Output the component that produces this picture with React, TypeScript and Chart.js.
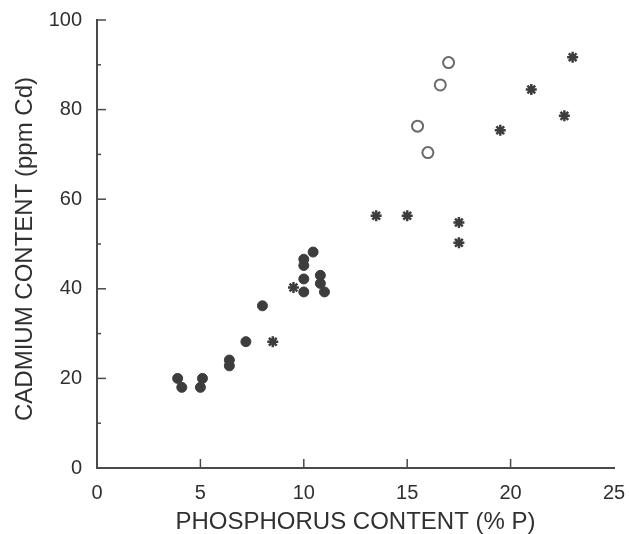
import React, { useEffect, useRef } from 'react';
import { Chart, registerables } from 'chart.js';

Chart.register(...registerables);

// Filled circles
const filledX = [3.9, 4.1, 5.0, 5.1, 6.4, 6.4, 7.2, 8.0, 10.0, 10.0, 10.0, 10.0, 10.45, 10.8, 10.8, 11.0];
const filledY = [20.0, 18.0, 18.0, 20.0, 24.1, 22.8, 28.2, 36.2, 46.6, 45.2, 42.2, 39.3, 48.2, 43.0, 41.2, 39.3];

// Asterisks
const starX = [8.5, 9.5, 13.5, 15.0, 17.5, 17.5, 19.5, 21.0, 22.6, 23.0];
const starY = [28.2, 40.3, 56.3, 56.3, 54.8, 50.3, 75.4, 84.5, 78.6, 91.7];

// Open circles
const openX = [15.5, 16.0, 16.6, 17.0];
const openY = [76.3, 70.4, 85.5, 90.5];

const xTitle = 'PHOSPHORUS CONTENT (% P)';
const yTitle = 'CADMIUM CONTENT (ppm Cd)';
const xMin = 0, xMax = 25, xStep = 5;
const yMin = 0, yMax = 100, yStep = 10, yLabelStep = 20;

const axisColor = '#4a4a4a';
const textColor = '#303030';
const fontFamily = '"Liberation Sans", Arial, Helvetica, sans-serif';

export default function App() {
  const ref = useRef<HTMLCanvasElement>(null);

  useEffect(() => {
    document.body.style.margin = '0';
    const canvas = ref.current;
    if (!canvas) return;
    const pts = (xs: number[], ys: number[]) => xs.map((x, i) => ({ x, y: ys[i] }));

    const insideTicks = {
      id: 'insideTicks',
      afterDraw(chart: any) {
        const { ctx, chartArea, scales } = chart;
        const xs = scales.x, ys = scales.y;
        ctx.save();
        ctx.strokeStyle = axisColor;
        ctx.lineWidth = 1.5;
        ys.ticks.forEach((t: any) => {
          const v = t.value;
          if (v === yMin) return;
          const p = ys.getPixelForValue(v);
          const len = v % yLabelStep === 0 ? 9 : 4;
          ctx.beginPath();
          ctx.moveTo(chartArea.left, p);
          ctx.lineTo(chartArea.left + len, p);
          ctx.stroke();
        });
        xs.ticks.forEach((t: any) => {
          const v = t.value;
          if (v === xMin || v === xMax) return;
          const p = xs.getPixelForValue(v);
          ctx.beginPath();
          ctx.moveTo(p, chartArea.bottom);
          ctx.lineTo(p, chartArea.bottom - 9);
          ctx.stroke();
        });
        ctx.fillStyle = textColor;
        ctx.font = `24px ${fontFamily}`;
        ctx.textAlign = 'center';
        ctx.textBaseline = 'middle';
        ctx.fillText(xTitle, (chartArea.left + chartArea.right) / 2, chartArea.bottom + 54);
        ctx.translate(25, (chartArea.top + chartArea.bottom) / 2 + 5);
        ctx.rotate(-Math.PI / 2);
        ctx.fillText(yTitle, 0, 0);
        ctx.restore();
      },
    };

    const chart = new Chart(canvas, {
      type: 'scatter',
      data: {
        datasets: [
          {
            label: 'filled',
            data: pts(filledX, filledY),
            pointStyle: 'circle',
            pointRadius: 5,
            backgroundColor: '#3d3d3d',
            borderColor: '#3d3d3d',
            borderWidth: 1,
          },
          {
            label: 'star',
            data: pts(starX, starY),
            pointStyle: 'star',
            pointRadius: 5.5,
            backgroundColor: '#3d3d3d',
            borderColor: '#3d3d3d',
            borderWidth: 2.5,
          },
          {
            label: 'open',
            data: pts(openX, openY),
            pointStyle: 'circle',
            pointRadius: 5.5,
            backgroundColor: '#ffffff',
            borderColor: '#6a6a6a',
            borderWidth: 2,
          },
        ],
      },
      options: {
        responsive: false,
        maintainAspectRatio: false,
        animation: false,
        layout: { padding: { top: 20, right: 15, left: 0, bottom: 0 } },
        plugins: { legend: { display: false }, tooltip: { enabled: false } },
        scales: {
          x: {
            type: 'linear',
            min: xMin,
            max: xMax,
            ticks: {
              stepSize: xStep,
              color: textColor,
              font: { family: fontFamily, size: 20 },
              padding: 13,
              maxRotation: 0,
            },
            grid: { display: true, drawOnChartArea: false, drawTicks: false },
            border: { display: true, color: axisColor, width: 2 },
            afterFit: (s: any) => {
              s.height = 66;
              s.paddingLeft = 0;
              s.paddingRight = 0;
            },
          },
          y: {
            type: 'linear',
            min: yMin,
            max: yMax,
            ticks: {
              stepSize: yStep,
              color: textColor,
              font: { family: fontFamily, size: 20 },
              padding: 15,
              callback: (v: any) => (Number(v) % yLabelStep === 0 ? String(v) : ''),
            },
            grid: { display: true, drawOnChartArea: false, drawTicks: false },
            border: { display: true, color: axisColor, width: 2 },
            afterFit: (s: any) => {
              s.width = 97;
              s.paddingTop = 0;
              s.paddingBottom = 0;
            },
          },
        },
      },
      plugins: [insideTicks],
    });
    return () => chart.destroy();
  }, []);

  return (
    <div style={{ position: 'absolute', left: 0, top: 0, width: 629, height: 534 }}>
      <canvas ref={ref} width={629} height={534} style={{ display: 'block' }} />
    </div>
  );
}
